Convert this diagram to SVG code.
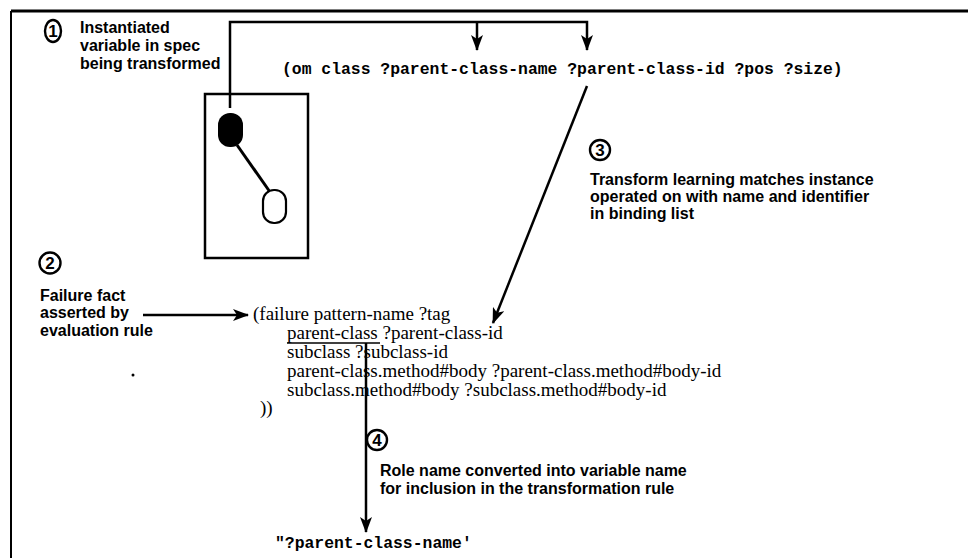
<svg xmlns="http://www.w3.org/2000/svg" width="968" height="558" viewBox="0 0 968 558">
<style>
.lbl{font-family:"Liberation Sans",Arial,sans-serif;font-weight:bold;font-size:16px;fill:#000}
.num{font-family:"Liberation Sans",Arial,sans-serif;font-weight:bold;font-size:17px;fill:#000;text-anchor:middle}
.mono{font-family:"Liberation Mono","Courier New",monospace;font-weight:bold;font-size:16.4px;fill:#000}
.serif{font-family:"Liberation Serif","Times New Roman",serif;font-size:19px;fill:#000}
.ln{fill:none;stroke:#000;stroke-width:2.5}
.badge{fill:none;stroke:#000;stroke-width:2.4}
</style>
<defs>
<marker id="ah" viewBox="0 0 16 12" refX="15" refY="6" markerWidth="16" markerHeight="12" markerUnits="userSpaceOnUse" orient="auto">
<path d="M0,0 L16,6 L0,12 L4,6 z" fill="#000"/>
</marker>
</defs>
<rect width="968" height="558" fill="#fff"/>
<g id="frame">
<path d="M11,11 H968" fill="none" stroke="#000" stroke-width="3"/>
<path d="M11,11 V558" fill="none" stroke="#000" stroke-width="2"/>
</g>
<g id="spec-box">
<rect x="205" y="94" width="103" height="164" fill="none" stroke="#000" stroke-width="2.5"/>
<line x1="237" y1="145" x2="270" y2="192" stroke="#000" stroke-width="3"/>
<rect x="218" y="113" width="25" height="34" rx="12" fill="#000"/>
<rect x="263" y="190" width="23" height="33" rx="11" fill="#fff" stroke="#000" stroke-width="2.2"/>
</g>
<g id="note1">
<ellipse class="badge" cx="53" cy="31" rx="8" ry="11"/>
<text class="num" x="53" y="37">1</text>
<text class="lbl" x="80" y="33">Instantiated</text>
<text class="lbl" x="80" y="51">variable in spec</text>
<text class="lbl" x="80" y="69">being transformed</text>
</g>
<g id="om-pattern">
<text class="mono" x="282" y="74">(om class ?parent-class-name ?parent-class-id ?pos ?size)</text>
</g>
<g id="note3">
<circle class="badge" cx="600" cy="150" r="10"/>
<text class="num" x="600" y="156">3</text>
<text class="lbl" x="590" y="185">Transform learning matches instance</text>
<text class="lbl" x="590" y="202">operated on with name and identifier</text>
<text class="lbl" x="590" y="219">in binding list</text>
</g>
<g id="note2">
<circle class="badge" cx="50" cy="263" r="10.5"/>
<text class="num" x="50" y="269">2</text>
<text class="lbl" x="40" y="301">Failure fact</text>
<text class="lbl" x="40" y="318">asserted by</text>
<text class="lbl" x="40" y="336">evaluation rule</text>
</g>
<g id="failure-fact">
<text class="serif" x="253" y="320">(failure pattern-name ?tag</text>
<text class="serif" x="287" y="339">parent-class ?parent-class-id</text>
<text class="serif" x="287" y="358">subclass ?subclass-id</text>
<text class="serif" x="287" y="377">parent-class.method#body ?parent-class.method#body-id</text>
<text class="serif" x="287" y="396">subclass.method#body ?subclass.method#body-id</text>
<text class="serif" x="260" y="414">))</text>
<line x1="287" y1="343" x2="380" y2="343" stroke="#000" stroke-width="1.5"/>
</g>
<g id="note4">
<circle class="badge" cx="377" cy="440" r="10"/>
<text class="num" x="377" y="446">4</text>
<text class="lbl" x="380" y="476">Role name converted into variable name</text>
<text class="lbl" x="380" y="494">for inclusion in the transformation rule</text>
</g>
<g id="result">
<text class="mono" x="275" y="548">"?parent-class-name'</text>
</g>
<circle cx="133" cy="375" r="1.5" fill="#000"/>
<g id="connectors">
<path class="ln" d="M230,108 V22 H587 V50" marker-end="url(#ah)"/>
<path class="ln" d="M477,22 V50" marker-end="url(#ah)"/>
<path class="ln" d="M587,86 L493,323" marker-end="url(#ah)"/>
<path class="ln" d="M143,315 H248" marker-end="url(#ah)"/>
<path class="ln" d="M366,343 V532" marker-end="url(#ah)"/>
</g>
</svg>
